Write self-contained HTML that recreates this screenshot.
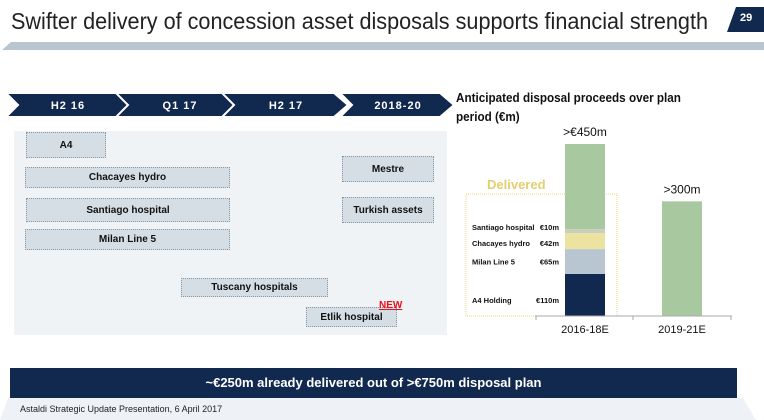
<!DOCTYPE html>
<html><head><meta charset="utf-8"><style>
body{margin:0;background:#fff;font-family:"Liberation Sans",sans-serif}
#root{position:relative;width:764px;height:420px;overflow:hidden}
.abs{position:absolute}
.box{position:absolute;background:#d5dee5;border:1px dotted #8a96a0;box-sizing:border-box;font:bold 10px "Liberation Sans",sans-serif;color:#111;display:flex;align-items:center;justify-content:center}
</style></head><body>
<div id="root">
<div class="abs" style="left:11px;top:8px;font-size:23px;color:#222;white-space:nowrap;transform:scaleX(0.94);transform-origin:left top">Swifter delivery of concession asset disposals supports financial strength</div>
<svg class="abs" style="left:0;top:0" width="764" height="60">
<polygon points="736,7 764,7 764,32 727,32" fill="#12294f"/>
<polygon points="11,42 764,42 764,50 2,50" fill="#b8c6d2"/>
</svg>
<div class="abs" style="left:740px;top:12px;font:bold 11px 'Liberation Sans',sans-serif;color:#fff">29</div>

<svg class="abs" style="left:0;top:90px" width="460" height="32">
<g fill="#12294f" stroke="#fff" stroke-width="2">
<polygon points="6,3 122,3 136,15 122,27 6,27 18,15"/>
<polygon points="116,3 228,3 242,15 228,27 116,27 128,15"/>
<polygon points="222,3 334,3 348,15 334,27 222,27 234,15"/>
<polygon points="340,3 440,3 454,15 440,27 340,27 352,15"/>
</g>
<g fill="#fff" font-family="Liberation Sans" font-weight="bold" font-size="11" text-anchor="middle" letter-spacing="1">
<text x="68" y="19">H2 16</text>
<text x="180" y="19">Q1 17</text>
<text x="286" y="19">H2 17</text>
<text x="398" y="19">2018-20</text>
</g>
</svg>

<div class="abs" style="left:14px;top:131px;width:433px;height:204px;background:#f0f3f6"></div>
<div class="box" style="left:26px;top:132px;width:80px;height:26px">A4</div>
<div class="box" style="left:25px;top:167px;width:205px;height:21px">Chacayes hydro</div>
<div class="box" style="left:26px;top:198px;width:204px;height:24px">Santiago hospital</div>
<div class="box" style="left:25px;top:229px;width:205px;height:21px">Milan Line 5</div>
<div class="box" style="left:181px;top:278px;width:147px;height:19px">Tuscany hospitals</div>
<div class="box" style="left:306px;top:307px;width:91px;height:20px">Etlik hospital</div>
<div class="box" style="left:342px;top:156px;width:92px;height:26px">Mestre</div>
<div class="box" style="left:342px;top:197px;width:92px;height:26px">Turkish assets</div>
<div class="abs" style="left:379px;top:300px;font:bold 10px 'Liberation Sans',sans-serif;color:#e8101a;text-decoration:underline">NEW</div>

<div class="abs" style="left:456px;top:88px;font:bold 13px/19px 'Liberation Sans',sans-serif;color:#111;width:300px;transform:scaleX(0.9);transform-origin:left top">Anticipated disposal proceeds over plan<br>period (€m)</div>

<svg class="abs" id="chart" style="left:0;top:0" width="764" height="420"></svg>

<div class="abs" style="left:10px;top:368px;width:727px;height:30px;background:#12294f;color:#fff;font:bold 13px/30px 'Liberation Sans',sans-serif;text-align:center">~€250m already delivered out of &gt;€750m disposal plan</div>
<svg class="abs" style="left:0;top:398px" width="764" height="22"><polygon points="8,0 743,0 756,22 0,22" fill="#eef2f6"/></svg>
<div class="abs" style="left:20px;top:404px;font-size:9px;color:#222">Astaldi Strategic Update Presentation, 6 April 2017</div>
</div>
<script>
const categories=["2016-18E","2019-21E"];
const segNames=["A4 Holding","Milan Line 5","Chacayes hydro","Santiago hospital","Remaining"];
const seg2016=[110,65,42,10,223];
const seg2019=[0,0,0,0,300];
const totalLabels=[">€450m",">300m"];
const segLabels=["€110m","€65m","€42m","€10m"];
const segColors=["#12294f","#b8c6d2","#ede3a0","#c9cfc0","#a8c8a0"];
const svg=document.getElementById('chart');
const NS="http://www.w3.org/2000/svg";
const baseY=316, pxPer=172/450;
const y=v=>baseY-v*pxPer;
const barX=[565,662], barW=40;
function mk(t,a,txt){const e=document.createElementNS(NS,t);for(const k in a)e.setAttribute(k,a[k]);if(txt!=null)e.textContent=txt;svg.appendChild(e);return e;}
let db=mk('rect',{x:466,y:194,width:151,height:122,fill:'none',stroke:'#e8d47a','stroke-dasharray':'1,1'});


let dl=mk('text',{x:487,y:189,fill:'#e2cf70','font-family':'Liberation Sans','font-weight':'bold','font-size':13},'Delivered');


[seg2016,seg2019].forEach((arr,i)=>{
  let cum=0;
  arr.forEach((v,j)=>{
    if(v<=0)return;
    const r=mk('rect',{x:barX[i],y:y(cum+v),width:barW,height:v*pxPer,fill:segColors[j]});
    
    
    if(i===0&&j<4){
      let ly=y(cum+v/2)+3;
      if(j===0)ly=y(cum)-13;
      if(j===3)ly=y(cum+v)+1;
      if(j===2)ly=y(cum+v/2)+5;
      const a=mk('text',{x:472,y:ly,'font-family':'Liberation Sans','font-weight':'bold','font-size':7.5,fill:'#111'},segNames[j]);
      
      
      const b=mk('text',{x:559,y:ly,'text-anchor':'end','font-family':'Liberation Sans','font-weight':'bold','font-size':7.5,fill:'#111'},segLabels[j]);
      
      
    }
    cum+=v;
  });
  const tot=arr.reduce((s,v)=>s+v,0);
  const t=mk('text',{x:barX[i]+barW/2,y:y(tot)-8,'text-anchor':'middle','font-family':'Liberation Sans','font-size':12,fill:'#111'},totalLabels[i]);
  
  
  const c=mk('text',{x:barX[i]+barW/2,y:baseY+17,'text-anchor':'middle','font-family':'Liberation Sans','font-size':11,fill:'#111'},categories[i]);
  
  
});
const ax=mk('line',{x1:535,y1:baseY,x2:732,y2:baseY,stroke:'#aaa','stroke-width':1});


[536,633,731].forEach(xx=>{const tk=mk('line',{x1:xx,y1:baseY,x2:xx,y2:baseY+4,stroke:'#aaa'});

});
</script>
</body></html>
